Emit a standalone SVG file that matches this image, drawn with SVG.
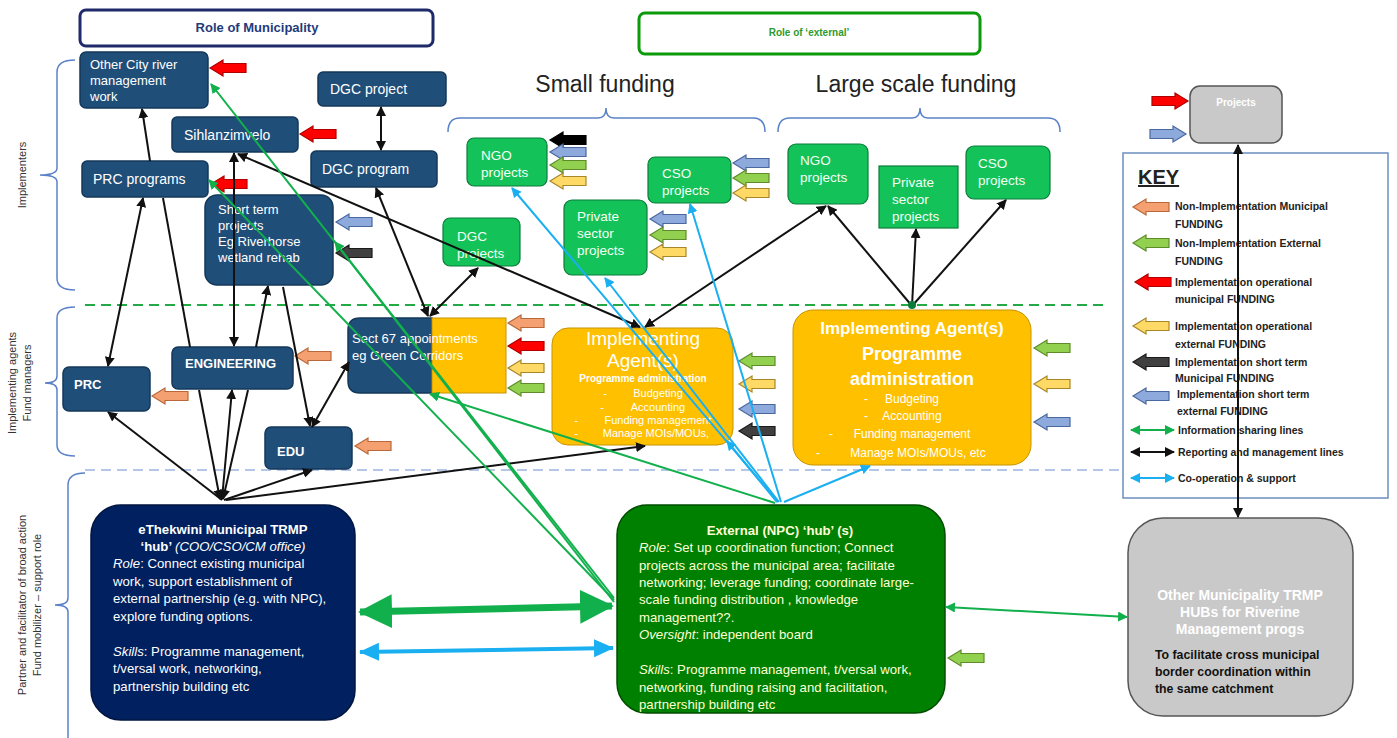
<svg xmlns="http://www.w3.org/2000/svg" xmlns:xlink="http://www.w3.org/1999/xlink" width="1397" height="738" viewBox="0 0 1397 738">
<style>
text{font-family:"Liberation Sans",Arial,sans-serif}
.nv{fill:#1F4E79;stroke:#14385A;stroke-width:1.5}
.gn{fill:#14C25A;stroke:#0B7D3A;stroke-width:1.2}
.yl{fill:#FFC000;stroke:#C79400;stroke-width:1}
.wt{fill:#fff;font-size:13px}
.w14{font-size:14px}
.gt{fill:#F4FFF4;font-size:13.5px}
.lbl{fill:#333;font-size:11px}
.key{fill:#222;font-size:10.5px;font-weight:bold}
.or{fill:#F4A070;stroke:#B8683A;stroke-width:1.2}
.lg{fill:#92D050;stroke:#5E8C2A;stroke-width:1.2}
.rd{fill:#FF0000;stroke:#B00000;stroke-width:1.2}
.ye{fill:#FFD966;stroke:#A8862A;stroke-width:1.2}
.dk{fill:#404040;stroke:#1A1A1A;stroke-width:1.2}
.bl{fill:#8EA9DB;stroke:#4A68A0;stroke-width:1.2}
.bk{fill:#000;stroke:#000;stroke-width:1.2}
.cb{stroke:#111;stroke-width:2;fill:none}
.cg{stroke:#12B04C;stroke-width:2;fill:none}
.cc{stroke:#1AAFF0;stroke-width:2;fill:none}
.br{stroke:#5B82C8;stroke-width:1.5;fill:none}
.b{font-weight:bold}
</style>
<defs>
<path id="blk" d="M0,0 L13,-8 L13,-4.5 L36,-4.5 L36,4.5 L13,4.5 L13,8 Z"/>
<marker id="mb" markerUnits="userSpaceOnUse" markerWidth="10" markerHeight="10" refX="9" refY="5" orient="auto-start-reverse"><path d="M0,0 L10,5 L0,10 z" fill="#111"/></marker>
<marker id="mg" markerUnits="userSpaceOnUse" markerWidth="10" markerHeight="10" refX="9" refY="5" orient="auto-start-reverse"><path d="M0,0 L10,5 L0,10 z" fill="#12B04C"/></marker>
<marker id="mc" markerUnits="userSpaceOnUse" markerWidth="10" markerHeight="10" refX="9" refY="5" orient="auto-start-reverse"><path d="M0,0 L10,5 L0,10 z" fill="#1AAFF0"/></marker>
<marker id="mgL" markerUnits="userSpaceOnUse" markerWidth="34" markerHeight="34" refX="32" refY="17" orient="auto-start-reverse"><path d="M0,0 L34,17 L0,34 z" fill="#12B04C"/></marker>
<marker id="mcL" markerUnits="userSpaceOnUse" markerWidth="20" markerHeight="20" refX="19" refY="10" orient="auto-start-reverse"><path d="M0,1 L20,10 L0,19 z" fill="#1AAFF0"/></marker>
</defs>
<rect width="1397" height="738" fill="#fff"/>

<!-- headers -->
<g id="hdr-municipality">
<rect x="80" y="10" width="353" height="36" rx="6" fill="#fff" stroke="#1F2A6B" stroke-width="3"/>
<text x="257" y="32" text-anchor="middle" font-size="13" font-weight="bold" fill="#1F3A7A">Role of Municipality</text>
</g>
<g id="hdr-external">
<rect x="639" y="13" width="341" height="41" rx="6" fill="#fff" stroke="#0A9A0A" stroke-width="3"/>
<text x="809" y="36" text-anchor="middle" font-size="10" font-weight="bold" fill="#2E9A2E">Role of ‘external’</text>
</g>
<text x="605" y="92" text-anchor="middle" font-size="23" fill="#222">Small funding</text>
<text x="916" y="92" text-anchor="middle" font-size="23" fill="#222">Large scale funding</text>
<path class="br" d="M448,132 Q448,118 460,118 H598 Q606,118 606,108 Q606,118 614,118 H753 Q765,118 765,132"/>
<path class="br" d="M778,132 Q778,118 790,118 H912 Q920,118 920,108 Q920,118 928,118 H1048 Q1060,118 1060,132"/>

<!-- side braces and labels -->
<path class="br" d="M75,60 Q57,60 57,72 V168 Q57,175 40,175 Q57,175 57,182 V278 Q57,290 75,290"/>
<path class="br" d="M75,307 Q57,307 57,318 V376 Q57,383 45,383 Q57,383 57,390 V445 Q57,456 75,456"/>
<path class="br" d="M85,473 Q68,473 68,485 V598 Q68,605 55,605 Q68,605 68,612 V738"/>
<text class="lbl" transform="translate(26,175) rotate(-90)" text-anchor="middle">Implementers</text>
<text class="lbl" transform="translate(16,383) rotate(-90)" text-anchor="middle">Implementing agents</text>
<text class="lbl" transform="translate(31,383) rotate(-90)" text-anchor="middle">Fund managers</text>
<text class="lbl" transform="translate(26,605) rotate(-90)" text-anchor="middle">Partner and facilitator of broad action</text>
<text class="lbl" transform="translate(41,605) rotate(-90)" text-anchor="middle">Fund mobilizer – support role</text>

<!-- dashed separators -->
<line x1="85" y1="305" x2="1105" y2="305" stroke="#22AA44" stroke-width="2" stroke-dasharray="10,6"/>
<line x1="85" y1="470" x2="1120" y2="470" stroke="#B4C7E7" stroke-width="2" stroke-dasharray="10,6"/>

<!-- key -->
<g id="key">
<rect x="1123" y="153" width="265" height="345" fill="#fff" stroke="#6C8EBF" stroke-width="1.5"/>
<text x="1138" y="184" font-size="20" font-weight="bold" fill="#222" text-decoration="underline">KEY</text>
<use href="#blk" class="or" transform="translate(1133,207)"/>
<use href="#blk" class="lg" transform="translate(1133,243)"/>
<use href="#blk" class="rd" transform="translate(1135,282)"/>
<use href="#blk" class="ye" transform="translate(1133,326)"/>
<use href="#blk" class="dk" transform="translate(1133,362)"/>
<use href="#blk" class="bl" transform="translate(1133,396)"/>
<text class="key" x="1175" y="210">Non-Implementation Municipal</text>
<text class="key" x="1175" y="228">FUNDING</text>
<text class="key" x="1175" y="247">Non-Implementation External</text>
<text class="key" x="1175" y="265">FUNDING</text>
<text class="key" x="1175" y="286">Implementation operational</text>
<text class="key" x="1175" y="303">municipal FUNDING</text>
<text class="key" x="1175" y="330">Implementation operational</text>
<text class="key" x="1175" y="348">external FUNDING</text>
<text class="key" x="1175" y="366">Implementation short term</text>
<text class="key" x="1175" y="382">Municipal FUNDING</text>
<text class="key" x="1177" y="398">Implementation short term</text>
<text class="key" x="1177" y="415">external FUNDING</text>
<line x1="1131" y1="430" x2="1174" y2="430" class="cg" marker-start="url(#mg)" marker-end="url(#mg)"/>
<line x1="1131" y1="452" x2="1174" y2="452" class="cb" marker-start="url(#mb)" marker-end="url(#mb)"/>
<line x1="1131" y1="478" x2="1174" y2="478" class="cc" marker-start="url(#mc)" marker-end="url(#mc)"/>
<text class="key" x="1178" y="434">Information sharing lines</text>
<text class="key" x="1178" y="456">Reporting and management lines</text>
<text class="key" x="1178" y="482">Co-operation &amp; support</text>
</g>

<!-- municipal nodes -->
<g id="n-othercity"><rect class="nv" x="80" y="52" width="128" height="56" rx="6"/>
<text class="wt" x="90" y="69">Other City river</text><text class="wt" x="90" y="85">management</text><text class="wt" x="90" y="101">work</text>
<use href="#blk" class="rd" transform="translate(210,68)"/></g>
<g id="n-dgcproject"><rect class="nv" x="318" y="72" width="128" height="34" rx="5"/>
<text class="wt w14" x="330" y="94">DGC project</text></g>
<g id="n-sihlanzimvelo"><rect class="nv" x="172" y="117" width="126" height="35" rx="5"/>
<text class="wt w14" x="184" y="140">Sihlanzimvelo</text>
<use href="#blk" class="rd" transform="translate(300,134)"/></g>
<g id="n-dgcprogram"><rect class="nv" x="311" y="151" width="126" height="36" rx="5"/>
<text class="wt w14" x="322" y="174">DGC program</text></g>
<g id="n-prcprograms"><rect class="nv" x="82" y="161" width="126" height="36" rx="5"/>
<text class="wt w14" x="93" y="184">PRC programs</text>
<use href="#blk" class="rd" transform="translate(211,184)"/></g>
<g id="n-shortterm"><rect class="nv" x="205" y="195" width="128" height="90" rx="12"/>
<text class="wt" x="218" y="214">Short term</text><text class="wt" x="218" y="230">projects</text><text class="wt" x="218" y="246">Eg Riverhorse</text><text class="wt" x="218" y="262">wetland rehab</text>
<use href="#blk" class="bl" transform="translate(336,222)"/>
<use href="#blk" class="dk" transform="translate(336,253)"/></g>
<g id="n-prc"><rect class="nv" x="63" y="367" width="87" height="44" rx="6"/>
<text class="wt b" x="74" y="389" font-size="11">PRC</text>
<use href="#blk" class="or" transform="translate(152,396)"/></g>
<g id="n-engineering"><rect class="nv" x="172" y="347" width="121" height="42" rx="6"/>
<text class="wt b" x="185" y="368" font-size="11">ENGINEERING</text>
<use href="#blk" class="or" transform="translate(295,356)"/></g>
<g id="n-edu"><rect class="nv" x="265" y="427" width="87" height="42" rx="6"/>
<text class="wt b" x="277" y="456" font-size="11">EDU</text>
<use href="#blk" class="or" transform="translate(355,446)"/></g>
<g id="n-sect67">
<path d="M360,318 H432 V393 H360 Q348,393 348,381 V330 Q348,318 360,318 Z" fill="#1F4E79" stroke="#14385A" stroke-width="1.5"/>
<rect x="432" y="318" width="74" height="75" fill="#FFC000" stroke="#C79400"/>
<text class="wt" x="352" y="343">Sect 67 appointments</text><text class="wt" x="352" y="360">eg Green Corridors</text>
<use href="#blk" class="or" transform="translate(508,323)"/>
<use href="#blk" class="rd" transform="translate(508,346)"/>
<use href="#blk" class="ye" transform="translate(508,368)"/>
<use href="#blk" class="lg" transform="translate(508,388)"/></g>

<!-- external project nodes -->
<g id="n-dgcprojects"><rect class="gn" x="443" y="218" width="77" height="48" rx="7"/>
<text class="gt" x="457" y="241">DGC</text><text class="gt" x="457" y="258">projects</text></g>
<g id="n-ngo-small"><rect class="gn" x="467" y="138" width="80" height="48" rx="7"/>
<text class="gt" x="481" y="160">NGO</text><text class="gt" x="481" y="177">projects</text>
<use href="#blk" class="bk" transform="translate(550,140)"/>
<use href="#blk" class="bl" transform="translate(550,152)"/>
<use href="#blk" class="lg" transform="translate(550,165)"/>
<use href="#blk" class="ye" transform="translate(550,181)"/></g>
<g id="n-cso-small"><rect class="gn" x="648" y="157" width="83" height="46" rx="7"/>
<text class="gt" x="662" y="178">CSO</text><text class="gt" x="662" y="195">projects</text>
<use href="#blk" class="bl" transform="translate(733,163)"/>
<use href="#blk" class="lg" transform="translate(733,178)"/>
<use href="#blk" class="ye" transform="translate(733,193)"/></g>
<g id="n-private-small"><rect class="gn" x="564" y="200" width="83" height="75" rx="8"/>
<text class="gt" x="577" y="221">Private</text><text class="gt" x="577" y="238">sector</text><text class="gt" x="577" y="255">projects</text>
<use href="#blk" class="bl" transform="translate(650,219)"/>
<use href="#blk" class="lg" transform="translate(650,235)"/>
<use href="#blk" class="ye" transform="translate(650,252)"/></g>
<g id="n-ngo-large"><rect class="gn" x="788" y="144" width="80" height="60" rx="8"/>
<text class="gt" x="800" y="165">NGO</text><text class="gt" x="800" y="182">projects</text></g>
<g id="n-private-large"><rect class="gn" x="879" y="166" width="79" height="62"/>
<text class="gt" x="892" y="187">Private</text><text class="gt" x="892" y="204">sector</text><text class="gt" x="892" y="221">projects</text></g>
<g id="n-cso-large"><rect class="gn" x="966" y="146" width="84" height="53" rx="8"/>
<text class="gt" x="978" y="168">CSO</text><text class="gt" x="978" y="185">projects</text></g>

<!-- implementing agents -->
<g id="n-ia-small"><rect class="yl" x="552" y="328" width="181" height="117" rx="16"/>
<g fill="#fff" text-anchor="middle">
<text x="643" y="345" font-size="19">Implementing</text>
<text x="643" y="367" font-size="19">Agent(s)</text>
<text x="643" y="382" font-size="10" font-weight="bold">Programme administration</text>
<text x="658" y="397" font-size="11">Budgeting</text>
<text x="658" y="411" font-size="11">Accounting</text>
<text x="658" y="424" font-size="11">Funding management</text>
<text x="656" y="437" font-size="11">Manage MOIs/MOUs,</text>
<text x="605" y="397" font-size="11">-</text><text x="602" y="411" font-size="11">-</text><text x="576" y="424" font-size="11">-</text><text x="576" y="437" font-size="11">-</text>
</g>
<use href="#blk" class="lg" transform="translate(739,361)"/>
<use href="#blk" class="ye" transform="translate(739,384)"/>
<use href="#blk" class="bl" transform="translate(739,409)"/>
<use href="#blk" class="dk" transform="translate(739,431)"/></g>
<g id="n-ia-large"><rect class="yl" x="793" y="310" width="238" height="155" rx="20"/>
<g fill="#fff" text-anchor="middle">
<text x="912" y="334" font-size="17" font-weight="bold">Implementing Agent(s)</text>
<text x="912" y="360" font-size="18" font-weight="bold">Programme</text>
<text x="912" y="385" font-size="18" font-weight="bold">administration</text>
<text x="912" y="403" font-size="12">Budgeting</text>
<text x="912" y="420" font-size="12">Accounting</text>
<text x="912" y="438" font-size="12">Funding management</text>
<text x="918" y="457" font-size="12">Manage MOIs/MOUs, etc</text>
<text x="866" y="403" font-size="12">-</text><text x="866" y="420" font-size="12">-</text><text x="831" y="438" font-size="12">-</text><text x="818" y="457" font-size="12">-</text>
</g>
<use href="#blk" class="lg" transform="translate(1034,348)"/>
<use href="#blk" class="ye" transform="translate(1034,384)"/>
<use href="#blk" class="bl" transform="translate(1034,422)"/></g>

<!-- projects (grey) -->
<g id="n-projects"><rect x="1190" y="86" width="92" height="57" rx="10" fill="#C9C9C9" stroke="#555" stroke-width="1.5"/>
<text x="1236" y="106" text-anchor="middle" font-size="10" font-weight="bold" fill="#fff">Projects</text>
<use href="#blk" class="rd" transform="translate(1188,101) scale(-1,1)"/>
<use href="#blk" class="bl" transform="translate(1186,134) scale(-1,1)"/></g>

<!-- hubs -->
<g id="n-hub-municipal"><rect x="91" y="505" width="264" height="215" rx="30" fill="#002060" stroke="#001540" stroke-width="1.5"/>
<g fill="#fff" font-size="13.2">
<text x="223" y="534" text-anchor="middle" font-weight="bold">eThekwini Municipal TRMP</text>
<text x="223" y="551" text-anchor="middle"><tspan font-weight="bold">‘hub’ </tspan><tspan font-style="italic">(COO/CSO/CM office)</tspan></text>
<text x="113" y="568"><tspan font-style="italic">Role</tspan>: Connect existing municipal</text>
<text x="113" y="586">work, support establishment of</text>
<text x="113" y="603">external partnership (e.g. with NPC),</text>
<text x="113" y="621">explore funding options.</text>
<text x="113" y="656"><tspan font-style="italic">Skills</tspan>: Programme management,</text>
<text x="113" y="673">t/versal work, networking,</text>
<text x="113" y="691">partnership building etc</text>
</g></g>
<g id="n-hub-external"><rect x="617" y="505" width="328" height="208" rx="30" fill="#008000" stroke="#004D00" stroke-width="1.5"/>
<g fill="#FFFFD6" font-size="13.2">
<text x="780" y="535" text-anchor="middle" font-weight="bold">External (NPC) ‘hub’ (s)</text>
<text x="639" y="552"><tspan font-style="italic">Role</tspan>: Set up coordination function; Connect</text>
<text x="639" y="570">projects across the municipal area; facilitate</text>
<text x="639" y="587">networking; leverage funding; coordinate large-</text>
<text x="639" y="604">scale funding distribution , knowledge</text>
<text x="639" y="622">management??.</text>
<text x="639" y="639"><tspan font-style="italic">Oversight</tspan>: independent board</text>
<text x="639" y="674"><tspan font-style="italic">Skills</tspan>: Programme management, t/versal work,</text>
<text x="639" y="692">networking, funding raising and facilitation,</text>
<text x="639" y="709">partnership building etc</text>
</g>
<use href="#blk" class="lg" transform="translate(948,658)"/></g>
<g id="n-hub-other"><rect x="1128" y="518" width="225" height="198" rx="35" fill="#C9C9C9" stroke="#555" stroke-width="1.5"/>
<g font-size="14" font-weight="bold" text-anchor="middle" fill="#fff">
<text x="1240" y="600">Other Municipality TRMP</text>
<text x="1240" y="617">HUBs for Riverine</text>
<text x="1240" y="634">Management progs</text>
</g>
<g font-size="12.3" font-weight="bold" fill="#111">
<text x="1155" y="659">To facilitate cross municipal</text>
<text x="1155" y="676">border coordination within</text>
<text x="1155" y="693">the same catchment</text>
</g></g>

<!-- connectors -->
<g id="connectors">
<g class="cb">
<line x1="150" y1="161" x2="142" y2="109" marker-end="url(#mb)"/>
<line x1="143" y1="198" x2="108" y2="366" marker-start="url(#mb)" marker-end="url(#mb)"/>
<line x1="163" y1="198" x2="190" y2="347"/>
<line x1="199" y1="390" x2="220" y2="499" marker-end="url(#mb)"/>
<line x1="234" y1="153" x2="234" y2="346" marker-start="url(#mb)" marker-end="url(#mb)"/>
<line x1="232" y1="390" x2="222" y2="499" marker-start="url(#mb)" marker-end="url(#mb)"/>
<line x1="268" y1="286" x2="256" y2="347" marker-start="url(#mb)"/>
<line x1="248" y1="390" x2="223" y2="499" marker-end="url(#mb)"/>
<line x1="283" y1="287" x2="310" y2="426" marker-end="url(#mb)"/>
<line x1="222" y1="500" x2="108" y2="412" marker-end="url(#mb)"/>
<line x1="224" y1="500" x2="312" y2="470" marker-end="url(#mb)"/>
<line x1="226" y1="500" x2="645" y2="446" marker-end="url(#mb)"/>
<line x1="312" y1="427" x2="349" y2="362" marker-start="url(#mb)" marker-end="url(#mb)"/>
<line x1="376" y1="188" x2="428" y2="316" marker-start="url(#mb)" marker-end="url(#mb)"/>
<line x1="478" y1="268" x2="430" y2="316" marker-start="url(#mb)" marker-end="url(#mb)"/>
<line x1="381" y1="107" x2="381" y2="150" marker-start="url(#mb)" marker-end="url(#mb)"/>
<line x1="238" y1="154" x2="640" y2="327" marker-start="url(#mb)" marker-end="url(#mb)"/>
<line x1="826" y1="206" x2="645" y2="327" marker-start="url(#mb)" marker-end="url(#mb)"/>
<line x1="912" y1="306" x2="828" y2="206" marker-end="url(#mb)"/>
<line x1="912" y1="306" x2="916" y2="229" marker-end="url(#mb)"/>
<line x1="912" y1="306" x2="1006" y2="200" marker-end="url(#mb)"/>
<line x1="1238" y1="145" x2="1238" y2="517" marker-start="url(#mb)" marker-end="url(#mb)"/>
</g>
<circle cx="912" cy="305" r="4" fill="#0B7D3A"/>
<g class="cg">
<line x1="614" y1="598" x2="211" y2="84" marker-end="url(#mg)"/>
<line x1="614" y1="600" x2="209" y2="180" marker-end="url(#mg)"/>
<line x1="614" y1="602" x2="335" y2="242" marker-end="url(#mg)"/>
<line x1="775" y1="503" x2="430" y2="394" marker-end="url(#mg)"/>
<line x1="946" y1="607" x2="1127" y2="617" marker-start="url(#mg)" marker-end="url(#mg)"/>
<line x1="360" y1="612" x2="612" y2="606" stroke-width="7" marker-start="url(#mgL)" marker-end="url(#mgL)"/>
</g>
<g class="cc">
<line x1="778" y1="502" x2="512" y2="188" marker-end="url(#mc)"/>
<line x1="779" y1="502" x2="605" y2="278" marker-end="url(#mc)"/>
<line x1="781" y1="502" x2="690" y2="204" marker-end="url(#mc)"/>
<line x1="777" y1="502" x2="727" y2="441" marker-end="url(#mc)"/>
<line x1="784" y1="502" x2="870" y2="466" marker-end="url(#mc)"/>
<line x1="360" y1="652" x2="613" y2="648" stroke-width="4" marker-start="url(#mcL)" marker-end="url(#mcL)"/>
</g>
</g>
</svg>
